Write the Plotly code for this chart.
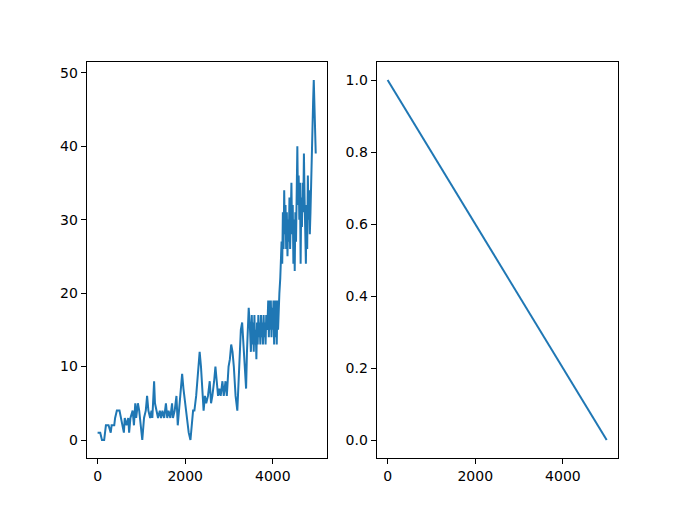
import plotly.graph_objects as go
from plotly.subplots import make_subplots

# left panel: score per episode
episodes = [0, 60, 100, 150, 170, 190, 250, 300, 320, 380,
            400, 440, 500, 530, 560, 600, 620, 660, 700, 720,
            750, 800, 830, 860, 880, 920, 950, 980, 1020, 1060,
            1100, 1130, 1160, 1200, 1230, 1250, 1290, 1310, 1340, 1380,
            1420, 1450, 1480, 1520, 1560, 1590, 1620, 1660, 1700, 1720,
            1760, 1800, 1830, 1860, 1900, 1930, 1960, 2000, 2040, 2080,
            2120, 2150, 2180, 2210, 2250, 2290, 2330, 2360, 2390, 2420,
            2450, 2480, 2520, 2560, 2590, 2620, 2660, 2690, 2720, 2750,
            2780, 2810, 2850, 2880, 2920, 2950, 2990, 3020, 3050, 3080,
            3110, 3150, 3190, 3220, 3250, 3270, 3300, 3330, 3360, 3390,
            3410, 3450, 3480, 3500, 3520, 3535, 3550, 3565, 3580, 3595,
            3610, 3625, 3640, 3655, 3670, 3685, 3700, 3715, 3730, 3745,
            3760, 3775, 3790, 3805, 3820, 3835, 3850, 3865, 3880, 3895,
            3910, 3925, 3940, 3955, 3970, 3985, 4000, 4015, 4030, 4045,
            4060, 4075, 4090, 4105, 4120, 4135, 4150, 4170, 4200, 4215,
            4230, 4245, 4260, 4275, 4290, 4305, 4320, 4335, 4350, 4365,
            4380, 4395, 4410, 4425, 4440, 4455, 4470, 4485, 4500, 4515,
            4530, 4545, 4560, 4575, 4590, 4605, 4620, 4635, 4650, 4665,
            4680, 4695, 4710, 4725, 4740, 4755, 4770, 4785, 4800, 4815,
            4830, 4845, 4860, 4875, 4890, 4905, 4920, 4935, 4945, 4955,
            4965, 4975, 4980]
scores = [1, 1, 0, 0, 1, 2, 2, 1, 2, 2,
          3, 4, 4, 3, 2, 1, 3, 2, 3, 1,
          3, 4, 2, 5, 3, 5, 4, 2, 0, 3,
          4, 6, 4, 3, 4, 3, 8, 5, 4, 3,
          4, 3, 4, 3, 5, 3, 4, 3, 5, 3,
          4, 6, 2, 4, 7, 9, 7, 5, 3, 1,
          0, 2, 4, 4, 6, 9, 12, 10, 7, 4,
          6, 5, 6, 8, 5, 6, 8, 10, 8, 6,
          7, 6, 8, 6, 8, 6, 10, 11, 13, 12,
          10, 6, 4, 9, 12, 15, 16, 13, 10, 7,
          12, 18, 15, 12, 17, 13, 16, 12, 17, 13,
          15, 11, 16, 13, 17, 14, 16, 13, 17, 14,
          16, 13, 17, 14, 16, 13, 17, 15, 16, 19,
          14, 19, 15, 19, 14, 18, 15, 19, 13, 19,
          14, 19, 13, 19, 15, 19, 20, 22, 27, 24,
          31, 26, 34, 28, 32, 26, 31, 25, 30, 27,
          33, 26, 30, 35, 28, 32, 24, 30, 23, 31,
          27, 34, 40, 32, 36, 30, 35, 24, 33, 29,
          35, 31, 39, 33, 28, 24, 32, 26, 36, 30,
          34, 28, 31, 36, 41, 44, 46, 49, 46, 43,
          41, 40, 39]

# right panel: linear decay
steps = [0, 5000]
epsilon = [1.0, 0.0]

blue = "#1f77b4"

fig = make_subplots(rows=1, cols=2)
fig.add_trace(go.Scatter(x=episodes, y=scores, mode="lines",
                         line=dict(color=blue, width=2)), row=1, col=1)
fig.add_trace(go.Scatter(x=steps, y=epsilon, mode="lines",
                         line=dict(color=blue, width=2)), row=1, col=2)


def pad(vals):
    lo, hi = min(vals), max(vals)
    m = (hi - lo) * 0.05
    return [lo - m, hi + m]


axis_style = dict(showline=True, linecolor="black", linewidth=1, mirror=True,
                  showgrid=False, zeroline=False, ticks="outside", ticklen=5,
                  tickcolor="black", tickfont=dict(color="black", size=14))

fig.update_xaxes(axis_style)
fig.update_yaxes(axis_style)

# page shows the figure offset by the 8px body margin, so domains are shifted back
fig.update_layout(
    width=686, height=515,
    margin=dict(l=0, r=0, t=0, b=0),
    plot_bgcolor="white", paper_bgcolor="white",
    font=dict(family="DejaVu Sans", size=14, color="black"),
    showlegend=False,
    xaxis=dict(domain=[0.1147, 0.4645], range=pad(episodes), tickvals=[0, 2000, 4000]),
    yaxis=dict(domain=[0.1262, 0.8951], range=pad(scores), tickvals=[0, 10, 20, 30, 40, 50]),
    xaxis2=dict(domain=[0.5374, 0.8887], range=pad(steps), tickvals=[0, 2000, 4000]),
    yaxis2=dict(domain=[0.1262, 0.8951], range=pad(epsilon),
                tickvals=[0, 0.2, 0.4, 0.6, 0.8, 1.0], tickformat=".1f"),
)

fig.write_html("out.html")
